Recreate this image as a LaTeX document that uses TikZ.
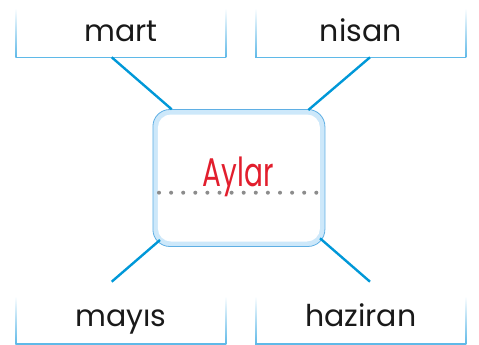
\documentclass[tikz,border=0pt]{standalone}
\usepackage{fontspec}
\setmainfont{Poppins}
\definecolor{boxblue}{RGB}{95,185,232}
\definecolor{linkblue}{RGB}{0,152,216}
\definecolor{bandblue}{RGB}{205,232,250}
\definecolor{edgeblue}{RGB}{95,175,228}
\definecolor{titlered}{RGB}{226,30,45}
\definecolor{dotgray}{RGB}{140,140,140}
\begin{document}
\begin{tikzpicture}[x=1pt,y=-1pt,
  word/.style={anchor=base,font=\fontsize{30}{32}\selectfont,text=black!90},
  link/.style={draw=linkblue,line width=2.4pt},
  boxline/.style={draw=boxblue,line width=1.2pt}]
\useasboundingbox (0,0) rectangle (479,345);
\foreach \nm/\xa/\xb/\ya/\yb in {mb/16/225.7/8/57.3, nb/255.7/465.7/8/57.3, yb/16/225.7/296/344, hb/255.7/465.7/296/344}{
  \shade[top color=white,bottom color=boxblue] (\xa-0.6,\ya) rectangle (\xa+0.6,\yb);
  \shade[top color=white,bottom color=boxblue] (\xb-0.6,\ya) rectangle (\xb+0.6,\yb);
  \draw[boxline] (\xa,\yb) -- (\xb,\yb);
  \coordinate (\nm) at ({(\xa+\xb)/2},\yb);
}
\node[word] (mart) at (120.8,41.7) {mart};
\node[word] (nisan) at (360.7,41.7) {nisan};
\node[word] (mayis) at (120.8,326.7) {mayıs};
\node[word] (haziran) at (360.7,326.7) {haziran};
% centre box
\node[draw=edgeblue,line width=0.8pt,fill=bandblue,rounded corners=17pt,minimum width=172pt,minimum height=137pt,inner sep=0pt] (outer) at (238.9,178) {};
\node[fill=white,rounded corners=13pt,minimum width=162pt,minimum height=127pt,inner sep=0pt] (center) at (238.9,178) {};
\foreach \i in {0,...,13}{
  \fill[dotgray] (159+\i*12.1,192.7) circle (2pt);
}
\node[anchor=base,text=titlered,font=\fontsize{40}{42}\selectfont,xscale=0.7] (aylar) at (238,186) {Aylar};
% connectors
\coordinate (m1) at (111.7,57.3);
\coordinate (m2) at (171.7,109.3);
\coordinate (n1) at (370,57.3);
\coordinate (n2) at (308.3,110);
\coordinate (y1) at (111.7,281.7);
\coordinate (y2) at (160,240);
\coordinate (h1) at (370,281.7);
\coordinate (h2) at (320,238.3);
\draw[link] (m1) -- (m2);
\draw[link] (n1) -- (n2);
\draw[link] (y1) -- (y2);
\draw[link] (h1) -- (h2);
\end{tikzpicture}
\end{document}
